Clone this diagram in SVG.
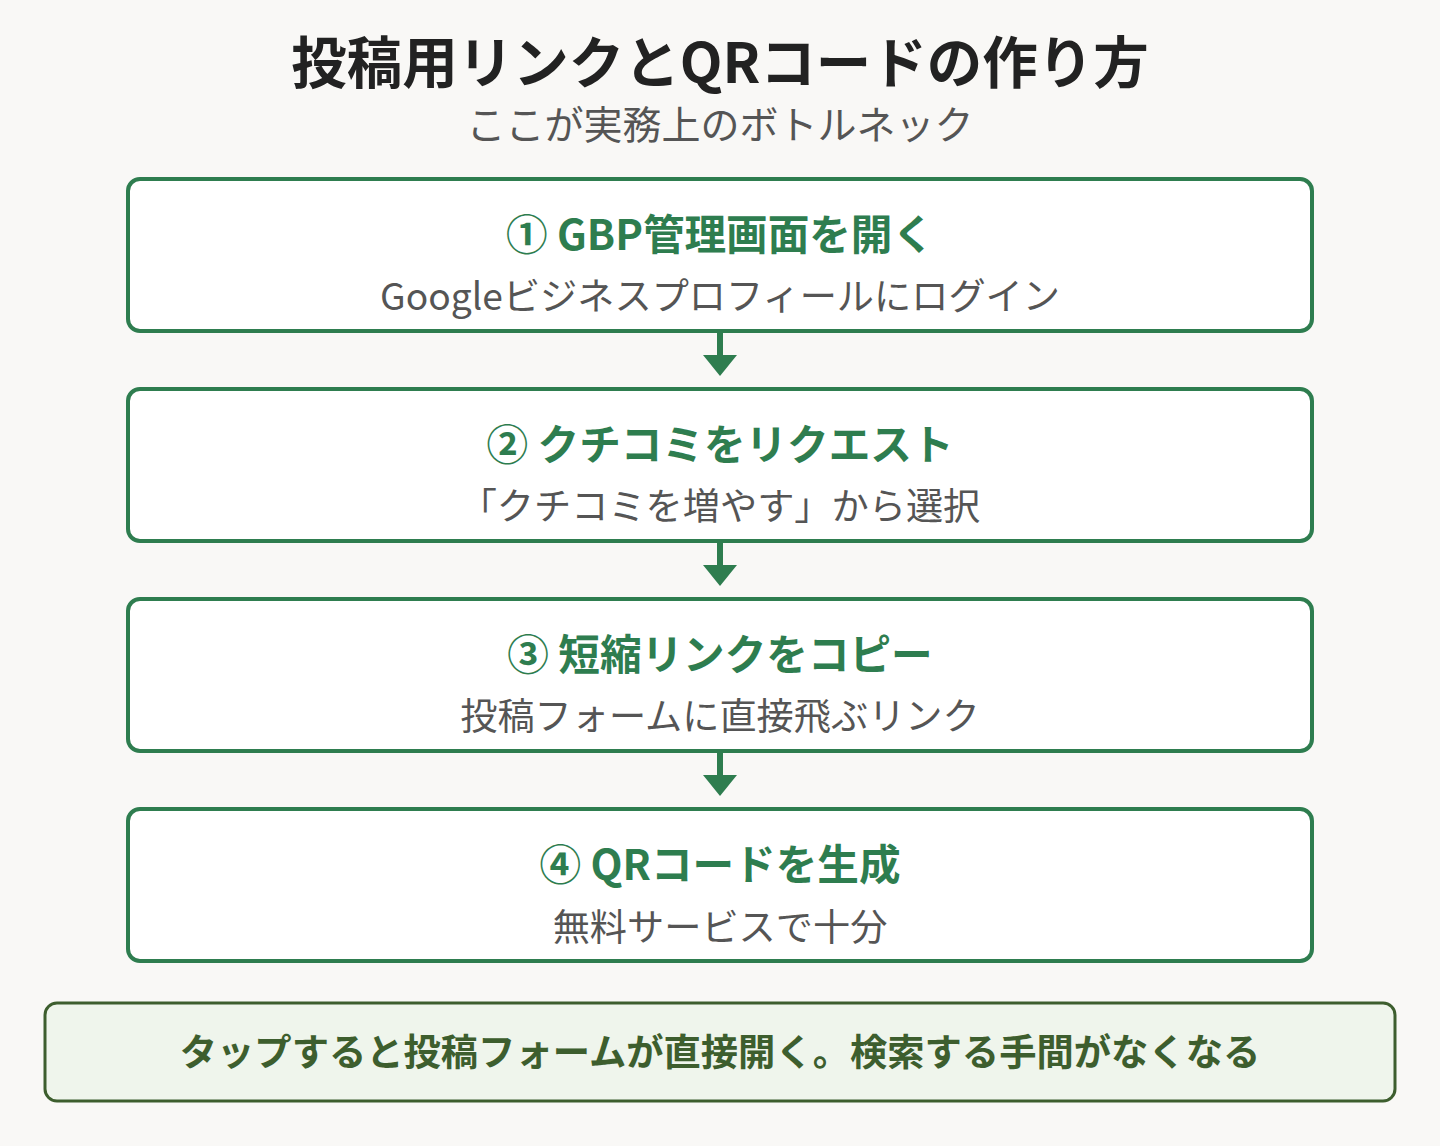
<svg xmlns="http://www.w3.org/2000/svg" width="1440" height="1146" viewBox="0 0 1440 1146">
<style>
.t{font-family:"Noto Sans CJK JP","Noto Sans",sans-serif;text-anchor:middle}
.title{font-size:55.5px;font-weight:700;fill:#222}
.sub{font-size:39px;fill:#555}
.box{fill:#fff;stroke:#2e7d4f;stroke-width:4}
.h{font-size:41.6px;font-weight:700;fill:#2e7d4f}
.d{font-size:37.2px;fill:#555}
.ar{stroke:#2e7d4f;stroke-width:6}
.ah{fill:#2e7d4f}
.note{fill:#eff5ec;stroke:#3d5e2e;stroke-width:3}
.nt{font-size:37.3px;font-weight:700;fill:#3d5e2e}
</style>
<rect width="1440" height="1146" fill="#f9f8f6"/>
<g id="title">
<text class="t title" x="720" y="83">投稿用リンクとQRコードの作り方</text>
<text class="t sub" x="720" y="139">ここが実務上のボトルネック</text>
</g>
<g id="connectors">
<line class="ar" x1="720" y1="333" x2="720" y2="358"/><polygon class="ah" points="703,355 737,355 720,376"/>
<line class="ar" x1="720" y1="543" x2="720" y2="568"/><polygon class="ah" points="703,565 737,565 720,586"/>
<line class="ar" x1="720" y1="753" x2="720" y2="778"/><polygon class="ah" points="703,775 737,775 720,796"/>
</g>
<g id="step1">
<rect class="box" x="128" y="179" width="1184" height="152" rx="12"/>
<text class="t h" x="720" y="250">① GBP管理画面を開く</text>
<text class="t d" x="720" y="310">Googleビジネスプロフィールにログイン</text>
</g>
<g id="step2">
<rect class="box" x="128" y="389" width="1184" height="152" rx="12"/>
<text class="t h" x="720" y="460">② クチコミをリクエスト</text>
<text class="t d" x="720" y="520">「クチコミを増やす」から選択</text>
</g>
<g id="step3">
<rect class="box" x="128" y="599" width="1184" height="152" rx="12"/>
<text class="t h" x="720" y="670">③ 短縮リンクをコピー</text>
<text class="t d" x="720" y="730">投稿フォームに直接飛ぶリンク</text>
</g>
<g id="step4">
<rect class="box" x="128" y="809" width="1184" height="152" rx="12"/>
<text class="t h" x="720" y="880">④ QRコードを生成</text>
<text class="t d" x="720" y="941">無料サービスで十分</text>
</g>
<g id="note">
<rect class="note" x="45" y="1003" width="1350" height="98" rx="12"/>
<text class="t nt" x="720" y="1066">タップすると投稿フォームが直接開く。検索する手間がなくなる</text>
</g>
</svg>
